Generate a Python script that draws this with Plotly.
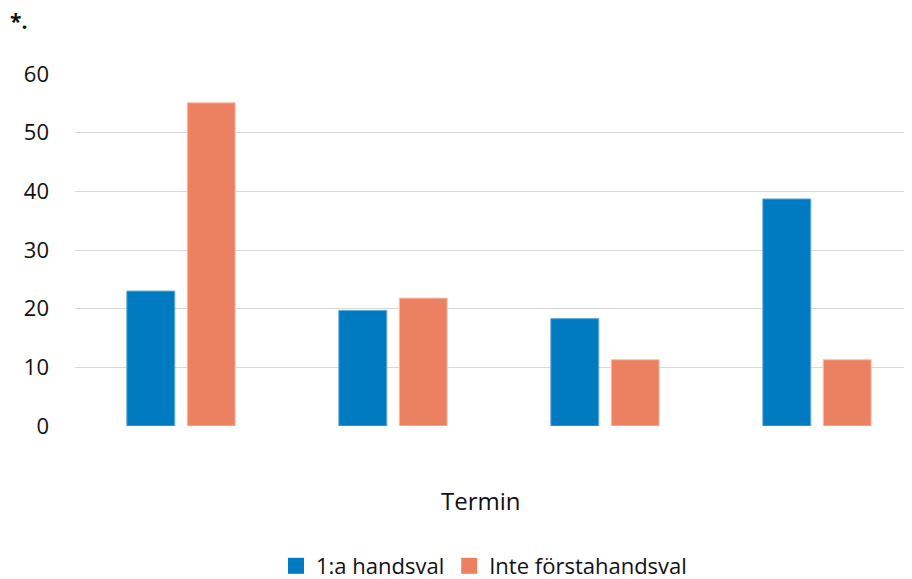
import plotly.graph_objects as go

categories = [0, 1, 2, 3]
series_names = ["1:a handsval", "Inte förstahandsval"]
first_choice = [23.0, 19.7, 18.3, 38.7]
not_first_choice = [55.1, 21.8, 11.3, 11.3]
y_ticks = [0, 10, 20, 30, 40, 50, 60]

blue = "#007BC1"
orange = "#EB8160"

L, T, B, W, H = 67, 66, 159, 912, 579
PW = W - L
PH = H - T - B

fig = go.Figure()
fig.add_trace(go.Bar(x=categories, y=first_choice, name=series_names[0], showlegend=False,
                     marker=dict(color=blue, line=dict(color="#5FA8D8", width=1))))
fig.add_trace(go.Bar(x=categories, y=not_first_choice, name=series_names[1], showlegend=False,
                     marker=dict(color=orange, line=dict(color="#F6C2B0", width=1))))
for name, col in zip(series_names, [blue, orange]):
    fig.add_trace(go.Scatter(x=[None], y=[None], mode="markers", name=name,
                             marker=dict(symbol="square", size=16, color=col)))

fig.update_layout(
    width=W, height=H,
    margin=dict(l=L, r=0, t=T, b=B),
    paper_bgcolor="white", plot_bgcolor="white",
    font=dict(family="Open Sans", size=22, color="#111111"),
    barmode="group", bargap=0.43, bargroupgap=0.207,
    showlegend=True,
    legend=dict(orientation="h", x=(476 - L) / PW, xref="paper", xanchor="center",
                y=(PH - (561 - T)) / PH, yanchor="middle", font=dict(size=22),
                itemwidth=30, traceorder="normal"),
    xaxis=dict(range=[-0.5, -0.5 + PW / 212], showticklabels=False, showgrid=False,
               zeroline=False, showline=False, ticks=""),
    yaxis=dict(range=[0, 60], tickvals=y_ticks, showgrid=True,
               gridcolor="#D9D9D9", gridwidth=1.3, zeroline=False,
               showline=False, ticks="", ticklabelstandoff=25,
               tickfont=dict(size=22)),
)
fig.add_annotation(text="Termin", xref="paper", yref="paper",
                   x=(473 - L) / PW, y=(PH - (495 - T)) / PH, xanchor="center", yanchor="middle",
                   showarrow=False, font=dict(size=24, color="#111111"))
fig.add_annotation(text="<b>*.</b>", xref="paper", yref="paper",
                   x=-L / PW, y=1 + (T - 13) / PH, xanchor="left", yanchor="middle",
                   showarrow=False, font=dict(size=21, color="#111111"))

fig.write_html("out.html")
